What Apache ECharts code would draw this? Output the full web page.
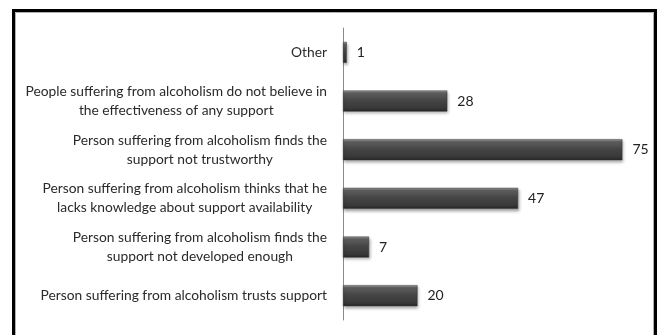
<!DOCTYPE html>
<html>
<head>
<meta charset="utf-8">
<style>
html,body{margin:0;padding:0;background:#fff;}
#c{width:659px;height:335px;}
</style>
<script src="https://cdn.jsdelivr.net/npm/echarts@6/dist/echarts.min.js"></script>
</head>
<body>
<div id="c"></div>
<script>
// Categories listed top to bottom
const categories = [
  'Other',
  'People suffering from alcoholism do not believe in\nthe effectiveness of any support',
  'Person suffering from alcoholism finds the\nsupport not trustworthy',
  'Person suffering from alcoholism thinks that he\nlacks knowledge about support availability',
  'Person suffering from alcoholism finds the\nsupport not developed enough',
  'Person suffering from alcoholism trusts support'
];
const values = [1, 28, 75, 47, 7, 20];

const chart = echarts.init(document.getElementById('c'), null, {renderer: 'canvas'});
const font = 'Lato, "Noto Sans", sans-serif';

const option = {
  animation: false,
  backgroundColor: '#fff',
  graphic: [
    {type: 'rect', shape: {x: 13.5, y: 10.5, width: 642, height: 340}, style: {fill: 'none', stroke: '#000', lineWidth: 3}, silent: true},
    {type: 'rect', shape: {x: 15.5, y: 12.5, width: 638, height: 340}, style: {fill: 'none', stroke: '#b0b0b0', lineWidth: 1}, silent: true}
  ],
  grid: {left: 343, right: 18, top: 28, bottom: 15, containLabel: false},
  xAxis: {
    type: 'value', min: 0, max: 80,
    axisLine: {show: false}, axisTick: {show: false},
    axisLabel: {show: false}, splitLine: {show: false}
  },
  yAxis: {
    type: 'category', inverse: true, data: categories,
    axisLine: {show: true, lineStyle: {color: '#8a8a8a', width: 1}},
    axisTick: {show: false},
    axisLabel: {
      margin: 16, align: 'right', color: '#2a2a2a', fontFamily: font, fontSize: 13.8,
      lineHeight: 19,
      formatter: function (v) {
        return v.split('\n').map(l => '{c|' + l + '}').join('\n');
      },
      rich: {c: {align: 'center', fontFamily: font, fontSize: 13.8, lineHeight: 19, color: '#2a2a2a'}}
    }
  },
  series: [{
    type: 'bar', data: values, barWidth: 21,
    itemStyle: {
      color: new echarts.graphic.LinearGradient(0, 0, 0, 1, [
        {offset: 0, color: '#a0a0a0'},
        {offset: 0.12, color: '#606060'},
        {offset: 0.45, color: '#464646'},
        {offset: 0.85, color: '#383838'},
        {offset: 1, color: '#242424'}
      ]),
      borderColor: '#3a3a3a', borderWidth: 0.5,
      shadowColor: 'rgba(0,0,0,0.35)', shadowBlur: 3, shadowOffsetY: 2, shadowOffsetX: 1
    },
    label: {show: true, position: 'right', distance: 10, color: '#222', fontFamily: font, fontSize: 14}
  }]
};
chart.setOption(option);
</script>
</body>
</html>
